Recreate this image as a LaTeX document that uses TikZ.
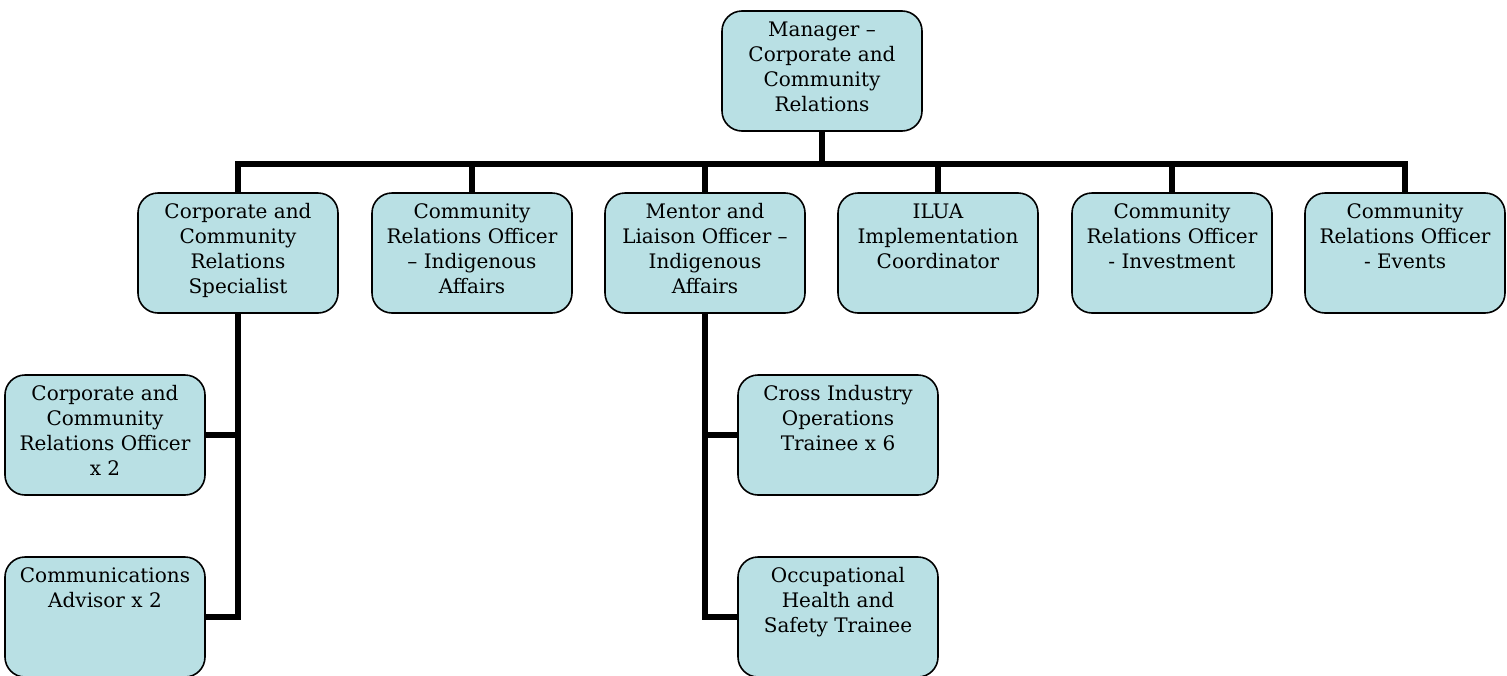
\documentclass[tikz,border=0pt]{standalone}
\usepackage{fontspec}
\setmainfont{DejaVu Serif}
\usetikzlibrary{calc}
\definecolor{boxblue}{RGB}{185,224,228}
\newcommand{\boxtext}[1]{\parbox[c][104pt][t]{190pt}{\centering\strut #1}}
\tikzset{
%Define style for the boxes of the chart
orgbox/.style={draw=black, line width=1.6pt, fill=boxblue, rounded corners=20pt, inner sep=5pt, minimum width=200pt, minimum height=120pt, font=\fontsize{20}{25}\selectfont},
%Define style for the connecting lines
link/.style={line width=5.5pt},
}
\begin{document}
\begin{tikzpicture}[x=1pt,y=-1pt]
    \useasboundingbox (0,0) rectangle (1507,675);
    % Top
    \node[orgbox] (mgr) at (822,71) {\boxtext{Manager --\\Corporate and\\Community\\Relations}};
    % Second level
    \node[orgbox] (spec) at (238,253) {\boxtext{Corporate and\\Community\\Relations\\Specialist}};
    \node[orgbox] (indig) at (472,253) {\boxtext{Community\\Relations Officer\\-- Indigenous\\Affairs}};
    \node[orgbox] (mentor) at (705,253) {\boxtext{Mentor and\\Liaison Officer --\\Indigenous\\Affairs}};
    \node[orgbox] (ilua) at (938,253) {\boxtext{ILUA\\Implementation\\Coordinator}};
    \node[orgbox] (invest) at (1172,253) {\boxtext{Community\\Relations Officer\\- Investment}};
    \node[orgbox] (events) at (1405,253) {\boxtext{Community\\Relations Officer\\- Events}};
    % Third level
    \node[orgbox] (cro) at (105,435) {\boxtext{Corporate and\\Community\\Relations Officer\\x 2}};
    \node[orgbox] (comm) at (105,617) {\boxtext{Communications\\Advisor x 2}};
    \node[orgbox] (cross) at (838,435) {\boxtext{Cross Industry\\Operations\\Trainee x 6}};
    \node[orgbox] (ohs) at (838,617) {\boxtext{Occupational\\Health and\\Safety Trainee}};
    % Lines
    \coordinate (bus) at ($(mgr.south)+(0,32)$);
    \draw[link] (mgr.south) -- (bus);
    \draw[link] (bus) -| (spec.north);
    \draw[link] (bus) -| (indig.north);
    \draw[link] (bus) -| (mentor.north);
    \draw[link] (bus) -| (ilua.north);
    \draw[link] (bus) -| (invest.north);
    \draw[link] (bus) -| (events.north);
    \draw[link] (spec.south) |- (cro.east);
    \draw[link] (spec.south) |- (comm.east);
    \draw[link] (mentor.south) |- (cross.west);
    \draw[link] (mentor.south) |- (ohs.west);
\end{tikzpicture}
\end{document}
